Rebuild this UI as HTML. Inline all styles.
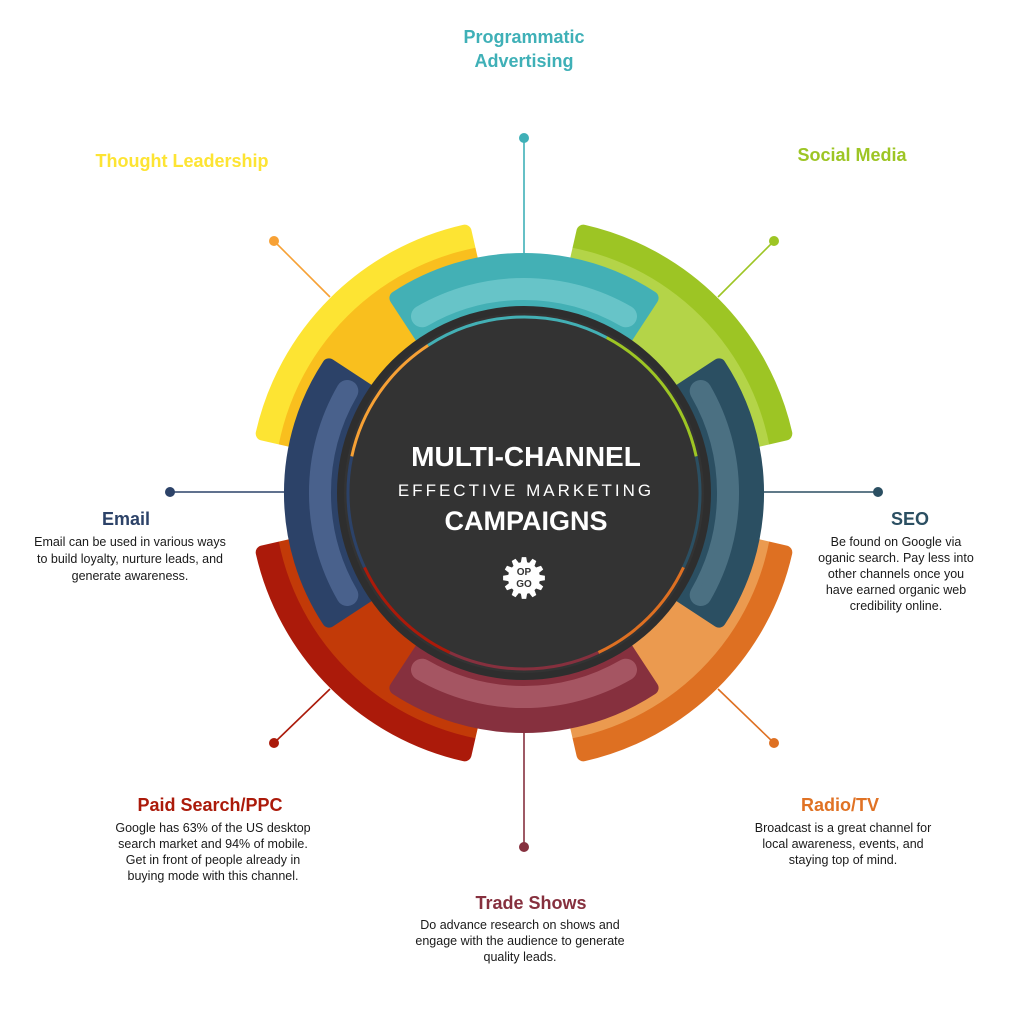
<!DOCTYPE html>
<html><head><meta charset="utf-8"><style>
html,body{margin:0;padding:0;background:#fff;width:1024px;height:1024px;overflow:hidden}
svg{display:block}
.t{font-family:"Liberation Sans",sans-serif;font-weight:bold;font-size:18px;text-anchor:middle}
.b{font-family:"Liberation Sans",sans-serif;font-size:12.5px;fill:#1a1a1a;text-anchor:middle}
</style></head><body>
<svg id="s" width="1024" height="1024" viewBox="0 0 1024 1024" xmlns="http://www.w3.org/2000/svg">
<g id="segs"></g>
<g id="top"></g>
<text class="t" x="524" y="43" fill="#3fb0b7">Programmatic</text>
<text class="t" x="524" y="67" fill="#3fb0b7">Advertising</text>
<text class="t" x="182" y="167" fill="#fde433">Thought Leadership</text>
<text class="t" x="852" y="161" fill="#9dc524">Social Media</text>
<text class="t" x="126" y="525" fill="#2c4268">Email</text>
<text class="b" x="130" y="546">Email can be used in various ways</text>
<text class="b" x="130" y="563">to build loyalty, nurture leads, and</text>
<text class="b" x="130" y="580">generate awareness.</text>
<text class="t" x="910" y="525" fill="#2b4f62">SEO</text>
<text class="b" x="896" y="546">Be found on Google via</text>
<text class="b" x="896" y="562">oganic search. Pay less into</text>
<text class="b" x="896" y="578">other channels once you</text>
<text class="b" x="896" y="594">have earned organic web</text>
<text class="b" x="896" y="610">credibility online.</text>
<text class="t" x="210" y="811" fill="#ab1a0a">Paid Search/PPC</text>
<text class="b" x="213" y="832">Google has 63% of the US desktop</text>
<text class="b" x="213" y="848">search market and 94% of mobile.</text>
<text class="b" x="213" y="864">Get in front of people already in</text>
<text class="b" x="213" y="880">buying mode with this channel.</text>
<text class="t" x="840" y="811" fill="#e07224">Radio/TV</text>
<text class="b" x="843" y="832">Broadcast is a great channel for</text>
<text class="b" x="843" y="848">local awareness, events, and</text>
<text class="b" x="843" y="864">staying top of mind.</text>
<text class="t" x="531" y="909" fill="#86303e">Trade Shows</text>
<text class="b" x="520" y="929">Do advance research on shows and</text>
<text class="b" x="520" y="945">engage with the audience to generate</text>
<text class="b" x="520" y="961">quality leads.</text>
<g font-family="Liberation Sans,sans-serif" fill="#fff" text-anchor="middle">
<text x="526" y="466" font-size="28" font-weight="bold">MULTI-CHANNEL</text>
<text x="526" y="496" font-size="17" letter-spacing="3">EFFECTIVE MARKETING</text>
<text x="526" y="530" font-size="27" font-weight="bold">CAMPAIGNS</text>
</g>
</svg>
<script>
var cx=524,cy=493,NS="http://www.w3.org/2000/svg";
function P(r,a){a=a*Math.PI/180;return (cx+r*Math.sin(a)).toFixed(1)+","+(cy-r*Math.cos(a)).toFixed(1);}
function sec(r1,r2,a1,a2){var l=(a2-a1)>180?1:0;return "M"+P(r2,a1)+"A"+r2+","+r2+" 0 "+l+" 1 "+P(r2,a2)+"L"+P(r1,a2)+"A"+r1+","+r1+" 0 "+l+" 0 "+P(r1,a1)+"Z";}
function arc(r,a1,a2){return "M"+P(r,a1)+"A"+r+","+r+" 0 0 1 "+P(r,a2);}
function el(p,t,at){var e=document.createElementNS(NS,t);for(var k in at)e.setAttribute(k,at[k]);p.appendChild(e);return e;}
var g=document.getElementById("segs"),id=0;
function seg(ac,span,r1,r2,outer,inner,splitR){
 var a1=ac-span,a2=ac+span,d=sec(r1+7,r2-7,a1+1.8,a2-1.8);
 var c="m"+(id++);var m=el(g,"mask",{id:c,maskUnits:"userSpaceOnUse",x:0,y:0,width:1024,height:1024});
 el(m,"path",{d:d,fill:"#fff",stroke:"#fff","stroke-width":14,"stroke-linejoin":"round"});
 var gg=el(g,"g",{mask:"url(#"+c+")"});
 el(gg,"path",{d:sec(r1-10,r2+10,a1-5,a2+5),fill:outer});
 el(gg,"path",{d:sec(r1-10,splitR,a1-5,a2+5),fill:inner});
}
seg(315,34,180,275,"#fde433","#f9bf1e",250);
seg(45,34,180,275,"#9dc524","#b4d448",250);
seg(135,34,180,275,"#de7022","#eb9a4f",250);
seg(225,34,180,275,"#ab1a0a","#c23a08",250);
function card(ac,outer,inner){
 seg(ac,35,180,240,outer,outer,200);
 el(g,"path",{d:arc(204,ac-30,ac+30),stroke:inner,"stroke-width":22,fill:"none","stroke-linecap":"round",opacity:0.9});
}
card(0,"#43b0b5","#6cc6ca");
card(90,"#2b4f62","#4f7386");
card(180,"#86303e","#a85a66");
card(270,"#2c4268","#4c6590");
var lines=[[524,138,524,253,"#3fb0b7"],[274,241,330,297,"#f7a135"],[774,241,718,297,"#9dc524"],[170,492,284,492,"#2c4268"],[878,492,764,492,"#2b4f62"],[274,743,330,689,"#ab1a0a"],[774,743,718,689,"#de7022"],[524,847,524,733,"#86303e"]];
lines.forEach(function(l){el(g,"line",{x1:l[0],y1:l[1],x2:l[2],y2:l[3],stroke:l[4],"stroke-width":1.6});el(g,"circle",{cx:l[0],cy:l[1],r:5,fill:l[4]});});
var t=document.getElementById("top");
el(t,"circle",{cx:cx,cy:cy,r:187,fill:"#2e2e2e"});
el(t,"circle",{cx:cx,cy:cy,r:180,fill:"#333"});
var rings=[[-78,-33,"#f7a135"],[-33,28,"#43b0b5"],[28,78,"#9dc524"],[78,115,"#2b4f62"],[115,155,"#de7022"],[155,205,"#86303e"],[205,245,"#ab1a0a"],[245,282,"#2c4268"]];
rings.forEach(function(r){el(t,"path",{d:arc(176,r[0],r[1]),stroke:r[2],"stroke-width":3,fill:"none"});});
function P2(r,a){a=a*Math.PI/180;return (524+r*Math.sin(a)).toFixed(1)+","+(578-r*Math.cos(a)).toFixed(1);}
var gp="";for(var i=0;i<12;i++){var a=i*30;gp+=(i?"L":"M")+P2(21,a-6)+"L"+P2(21,a+6)+"L"+P2(16,a+11)+"L"+P2(16,a+19);}
el(t,"path",{d:gp+"Z",fill:"#fff"});
var tx=el(t,"text",{x:524,y:575,"font-family":"Liberation Sans,sans-serif","font-size":10,"font-weight":"bold",fill:"#333","text-anchor":"middle"});tx.textContent="OP";
var tx2=el(t,"text",{x:524,y:587,"font-family":"Liberation Sans,sans-serif","font-size":10,"font-weight":"bold",fill:"#333","text-anchor":"middle"});tx2.textContent="GO";
</script>
</body></html>
